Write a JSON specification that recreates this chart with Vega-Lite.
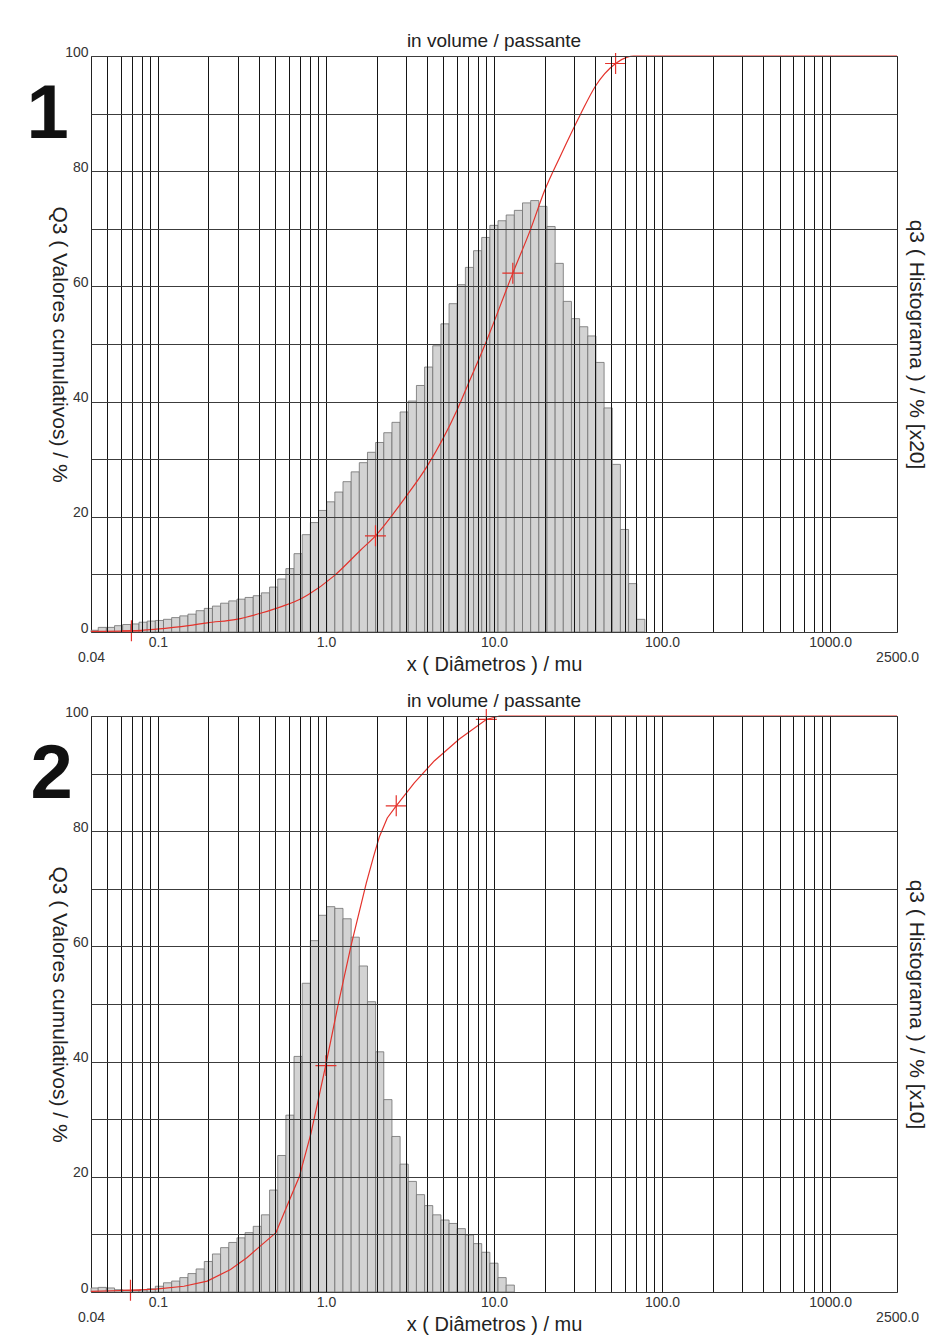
{
  "$schema": "https://vega.github.io/schema/vega-lite/v6.json",
  "background": "white",
  "padding": {"left": 26, "top": 31, "right": 0, "bottom": 0},
  "config": {"font": "Liberation Sans", "view": {"stroke": "#222", "strokeWidth": 1}},
  "bounds": "flush",
  "spacing": 84,
  "datasets": {
    "hist": [
      {"p":1,"lo":0.04,"hi":0.04416,"q":0.3},{"p":1,"lo":0.04416,"hi":0.04938,"q":0.8},{"p":1,"lo":0.04938,"hi":0.05522,"q":0.8},{"p":1,"lo":0.05522,"hi":0.06175,"q":1.1},{"p":1,"lo":0.06175,"hi":0.06906,"q":1.3},{"p":1,"lo":0.06906,"hi":0.07722,"q":1.4},{"p":1,"lo":0.07722,"hi":0.08636,"q":1.7},{"p":1,"lo":0.08636,"hi":0.09657,"q":1.9},{"p":1,"lo":0.09657,"hi":0.10799,"q":2.0},{"p":1,"lo":0.10799,"hi":0.12077,"q":2.2},{"p":1,"lo":0.12077,"hi":0.13505,"q":2.5},{"p":1,"lo":0.13505,"hi":0.15102,"q":2.8},{"p":1,"lo":0.15102,"hi":0.16889,"q":3.1},{"p":1,"lo":0.16889,"hi":0.18886,"q":3.7},{"p":1,"lo":0.18886,"hi":0.2112,"q":4.1},{"p":1,"lo":0.2112,"hi":0.23618,"q":4.5},{"p":1,"lo":0.23618,"hi":0.26412,"q":5.0},{"p":1,"lo":0.26412,"hi":0.29536,"q":5.4},{"p":1,"lo":0.29536,"hi":0.33029,"q":5.7},{"p":1,"lo":0.33029,"hi":0.36936,"q":6.0},{"p":1,"lo":0.36936,"hi":0.41305,"q":6.3},{"p":1,"lo":0.41305,"hi":0.4619,"q":6.8},{"p":1,"lo":0.4619,"hi":0.51653,"q":7.8},{"p":1,"lo":0.51653,"hi":0.57763,"q":9.2},{"p":1,"lo":0.57763,"hi":0.64595,"q":11.0},{"p":1,"lo":0.64595,"hi":0.72235,"q":13.6},{"p":1,"lo":0.72235,"hi":0.80779,"q":16.9},{"p":1,"lo":0.80779,"hi":0.90333,"q":19.0},{"p":1,"lo":0.90333,"hi":1.01018,"q":21.1},{"p":1,"lo":1.01018,"hi":1.12966,"q":22.6},{"p":1,"lo":1.12966,"hi":1.26328,"q":24.3},{"p":1,"lo":1.26328,"hi":1.4127,"q":26.1},{"p":1,"lo":1.4127,"hi":1.5798,"q":27.8},{"p":1,"lo":1.5798,"hi":1.76666,"q":29.4},{"p":1,"lo":1.76666,"hi":1.97562,"q":31.2},{"p":1,"lo":1.97562,"hi":2.2093,"q":32.9},{"p":1,"lo":2.2093,"hi":2.47062,"q":34.6},{"p":1,"lo":2.47062,"hi":2.76284,"q":36.4},{"p":1,"lo":2.76284,"hi":3.08963,"q":38.2},{"p":1,"lo":3.08963,"hi":3.45508,"q":40.1},{"p":1,"lo":3.45508,"hi":3.86375,"q":42.8},{"p":1,"lo":3.86375,"hi":4.32076,"q":46.0},{"p":1,"lo":4.32076,"hi":4.83182,"q":49.7},{"p":1,"lo":4.83182,"hi":5.40334,"q":53.5},{"p":1,"lo":5.40334,"hi":6.04245,"q":57.0},{"p":1,"lo":6.04245,"hi":6.75716,"q":60.3},{"p":1,"lo":6.75716,"hi":7.55641,"q":63.3},{"p":1,"lo":7.55641,"hi":8.45019,"q":66.2},{"p":1,"lo":8.45019,"hi":9.44968,"q":68.5},{"p":1,"lo":9.44968,"hi":10.5674,"q":70.6},{"p":1,"lo":10.5674,"hi":11.8173,"q":71.4},{"p":1,"lo":11.8173,"hi":13.2151,"q":72.4},{"p":1,"lo":13.2151,"hi":14.7782,"q":73.2},{"p":1,"lo":14.7782,"hi":16.5262,"q":74.5},{"p":1,"lo":16.5262,"hi":18.4809,"q":74.9},{"p":1,"lo":18.4809,"hi":20.6669,"q":73.9},{"p":1,"lo":20.6669,"hi":23.1114,"q":70.4},{"p":1,"lo":23.1114,"hi":25.845,"q":64.0},{"p":1,"lo":25.845,"hi":28.902,"q":57.4},{"p":1,"lo":28.902,"hi":32.3206,"q":54.4},{"p":1,"lo":32.3206,"hi":36.1435,"q":53.0},{"p":1,"lo":36.1435,"hi":40.4186,"q":51.4},{"p":1,"lo":40.4186,"hi":45.1994,"q":46.8},{"p":1,"lo":45.1994,"hi":50.5456,"q":38.9},{"p":1,"lo":50.5456,"hi":56.5241,"q":29.1},{"p":1,"lo":56.5241,"hi":63.2098,"q":17.8},{"p":1,"lo":63.2098,"hi":70.6863,"q":8.4},{"p":1,"lo":70.6863,"hi":79.0472,"q":2.2},
      {"p":2,"lo":0.04,"hi":0.04416,"q":0.7},{"p":2,"lo":0.04416,"hi":0.04938,"q":0.8},{"p":2,"lo":0.04938,"hi":0.05522,"q":0.7},{"p":2,"lo":0.05522,"hi":0.06175,"q":0.4},{"p":2,"lo":0.06175,"hi":0.06906,"q":0.3},{"p":2,"lo":0.06906,"hi":0.07722,"q":0.3},{"p":2,"lo":0.07722,"hi":0.08636,"q":0.35},{"p":2,"lo":0.08636,"hi":0.09657,"q":0.55},{"p":2,"lo":0.09657,"hi":0.10799,"q":1.0},{"p":2,"lo":0.10799,"hi":0.12077,"q":1.6},{"p":2,"lo":0.12077,"hi":0.13505,"q":1.9},{"p":2,"lo":0.13505,"hi":0.15102,"q":2.5},{"p":2,"lo":0.15102,"hi":0.16889,"q":3.2},{"p":2,"lo":0.16889,"hi":0.18886,"q":4.0},{"p":2,"lo":0.18886,"hi":0.2112,"q":5.3},{"p":2,"lo":0.2112,"hi":0.23618,"q":6.6},{"p":2,"lo":0.23618,"hi":0.26412,"q":7.7},{"p":2,"lo":0.26412,"hi":0.29536,"q":8.6},{"p":2,"lo":0.29536,"hi":0.33029,"q":9.4},{"p":2,"lo":0.33029,"hi":0.36936,"q":10.3},{"p":2,"lo":0.36936,"hi":0.41305,"q":11.4},{"p":2,"lo":0.41305,"hi":0.4619,"q":13.4},{"p":2,"lo":0.4619,"hi":0.51653,"q":17.7},{"p":2,"lo":0.51653,"hi":0.57763,"q":23.7},{"p":2,"lo":0.57763,"hi":0.64595,"q":30.7},{"p":2,"lo":0.64595,"hi":0.72235,"q":40.9},{"p":2,"lo":0.72235,"hi":0.80779,"q":53.6},{"p":2,"lo":0.80779,"hi":0.90333,"q":61.0},{"p":2,"lo":0.90333,"hi":1.01018,"q":65.4},{"p":2,"lo":1.01018,"hi":1.12966,"q":66.9},{"p":2,"lo":1.12966,"hi":1.26328,"q":66.6},{"p":2,"lo":1.26328,"hi":1.4127,"q":64.8},{"p":2,"lo":1.4127,"hi":1.5798,"q":61.6},{"p":2,"lo":1.5798,"hi":1.76666,"q":56.6},{"p":2,"lo":1.76666,"hi":1.97562,"q":50.4},{"p":2,"lo":1.97562,"hi":2.2093,"q":41.7},{"p":2,"lo":2.2093,"hi":2.47062,"q":33.4},{"p":2,"lo":2.47062,"hi":2.76284,"q":27.0},{"p":2,"lo":2.76284,"hi":3.08963,"q":22.2},{"p":2,"lo":3.08963,"hi":3.45508,"q":19.2},{"p":2,"lo":3.45508,"hi":3.86375,"q":16.9},{"p":2,"lo":3.86375,"hi":4.32076,"q":15.0},{"p":2,"lo":4.32076,"hi":4.83182,"q":13.4},{"p":2,"lo":4.83182,"hi":5.40334,"q":12.5},{"p":2,"lo":5.40334,"hi":6.04245,"q":11.9},{"p":2,"lo":6.04245,"hi":6.75716,"q":11.0},{"p":2,"lo":6.75716,"hi":7.55641,"q":9.9},{"p":2,"lo":7.55641,"hi":8.45019,"q":8.4},{"p":2,"lo":8.45019,"hi":9.44968,"q":6.9},{"p":2,"lo":9.44968,"hi":10.5674,"q":5.0},{"p":2,"lo":10.5674,"hi":11.8173,"q":2.5},{"p":2,"lo":11.8173,"hi":13.2151,"q":1.2}
    ],
    "cum": [
      {"p":1,"d":0.04,"Q":0.1},{"p":1,"d":0.0696,"Q":0.2},{"p":1,"d":0.098,"Q":0.5},{"p":1,"d":0.152,"Q":1.1},{"p":1,"d":0.197,"Q":1.6},{"p":1,"d":0.293,"Q":2.2},{"p":1,"d":0.413,"Q":3.3},{"p":1,"d":0.543,"Q":4.4},{"p":1,"d":0.715,"Q":5.8},{"p":1,"d":0.787,"Q":6.5},{"p":1,"d":1.113,"Q":9.7},{"p":1,"d":1.605,"Q":14.2},{"p":1,"d":1.971,"Q":16.7},{"p":1,"d":2.905,"Q":23.0},{"p":1,"d":4.004,"Q":28.8},{"p":1,"d":6.04,"Q":38.6},{"p":1,"d":7.25,"Q":44.0},{"p":1,"d":8.9,"Q":50.1},{"p":1,"d":12.94,"Q":62.3},{"p":1,"d":16.5,"Q":69.9},{"p":1,"d":19.98,"Q":76.6},{"p":1,"d":24.88,"Q":82.7},{"p":1,"d":32.73,"Q":89.9},{"p":1,"d":40.2,"Q":94.8},{"p":1,"d":52.9,"Q":98.7},{"p":1,"d":62.1,"Q":99.8},{"p":1,"d":67.7,"Q":100},{"p":1,"d":2500,"Q":100},
      {"p":2,"d":0.04,"Q":0.1},{"p":2,"d":0.0687,"Q":0.3},{"p":2,"d":0.0968,"Q":0.5},{"p":2,"d":0.1428,"Q":1.0},{"p":2,"d":0.1966,"Q":1.9},{"p":2,"d":0.2705,"Q":3.9},{"p":2,"d":0.34,"Q":6.0},{"p":2,"d":0.408,"Q":8.0},{"p":2,"d":0.504,"Q":10.3},{"p":2,"d":0.588,"Q":15.0},{"p":2,"d":0.694,"Q":20.0},{"p":2,"d":0.814,"Q":27.5},{"p":2,"d":1.0,"Q":39.5},{"p":2,"d":1.184,"Q":50.0},{"p":2,"d":1.415,"Q":60.3},{"p":2,"d":1.738,"Q":71.0},{"p":2,"d":1.92,"Q":75.6},{"p":2,"d":2.077,"Q":79.0},{"p":2,"d":2.317,"Q":82.3},{"p":2,"d":2.62,"Q":84.4},{"p":2,"d":3.355,"Q":88.4},{"p":2,"d":4.41,"Q":92.2},{"p":2,"d":6.22,"Q":96.0},{"p":2,"d":9.0,"Q":99.4},{"p":2,"d":10.75,"Q":100},{"p":2,"d":2500,"Q":100}
    ],
    "pts": [
      {"p":1,"d":0.0696,"Q":0.2},{"p":1,"d":1.971,"Q":16.7},{"p":1,"d":12.94,"Q":62.3},{"p":1,"d":52.9,"Q":98.7},
      {"p":2,"d":0.0687,"Q":0.3},{"p":2,"d":1.0,"Q":39.3},{"p":2,"d":2.62,"Q":84.4},{"p":2,"d":9.0,"Q":99.4}
    ]
  },
  "vconcat": [
    {
      "width": 806, "height": 576,
      "title": {"text": "in volume / passante", "fontSize": 19, "fontWeight": "normal", "color": "#222", "offset": -6},
      "layer": [
        {
          "data": {"name": "hist"},
          "transform": [{"filter": "datum.p == 1"}],
          "mark": {"type": "rect", "fill": "#d3d3d3", "stroke": "#707070", "strokeWidth": 0.8},
          "encoding": {
            "x": {"field": "lo", "type": "quantitative", "scale": {"type": "log", "domain": [0.04, 2500], "nice": false},
                  "axis": {"orient": "top", "values": [0.05,0.06,0.07,0.08,0.09,0.1,0.2,0.3,0.4,0.5,0.6,0.7,0.8,0.9,1,2,3,4,5,6,7,8,9,10,20,30,40,50,60,70,80,90,100,200,300,400,500,600,700,800,900,1000],
                           "grid": true, "gridColor": "#151515", "gridWidth": 1, "labels": false, "ticks": false, "domain": false, "title": null, "zindex": 1}},
            "x2": {"field": "hi"},
            "y": {"field": "q", "type": "quantitative", "scale": {"domain": [0, 100], "nice": false},
                  "axis": {"orient": "right", "values": [0,10,20,30,40,50,60,70,80,90,100], "grid": true, "gridColor": "#3c3c3c", "gridWidth": 1.2, "labels": false, "ticks": false, "domain": false,
                           "title": "q3 ( Histograma ) / % [x20]", "titleFontSize": 21, "titleFontWeight": "normal", "titleColor": "#222", "titleAngle": 90, "titleX": 18, "titleY": 288, "titleBaseline": "middle", "titleAlign": "center", "zindex": 1}},
            "y2": {"datum": 0}
          }
        },
        {
          "data": {"name": "cum"},
          "transform": [{"filter": "datum.p == 1"}],
          "mark": {"type": "line", "color": "#e4322b", "strokeWidth": 1.2, "interpolate": "monotone"},
          "encoding": {
            "x": {"field": "d", "type": "quantitative", "scale": {"type": "log", "domain": [0.04, 2500], "nice": false},
                  "axis": {"orient": "bottom", "values": [0.04,0.1,1,10,100,1000,2500], "grid": false, "ticks": false, "domain": false,
                           "labelExpr": "datum.value < 0.05 ? ['', '0.04'] : datum.value > 2000 ? ['', '2500.0'] : datum.value < 0.5 ? '0.1' : format(datum.value, '.1f')",
                           "labelFontSize": 14, "labelColor": "#333", "labelPadding": 3, "labelLineHeight": 15, "labelFlush": false, "labelOverlap": false,
                           "title": "x ( Diâmetros ) / mu", "titleFontSize": 20, "titleFontWeight": "normal", "titleColor": "#222", "titleY": 22, "titleBaseline": "top"}},
            "y": {"field": "Q", "type": "quantitative", "scale": {"domain": [0, 100], "nice": false},
                  "axis": {"orient": "left", "values": [0,20,40,60,80,100], "grid": false, "ticks": false, "domain": false,
                           "labelFontSize": 14, "labelColor": "#333", "labelPadding": 3, "labelBaseline": "alphabetic",
                           "title": "Q3 ( Valores cumulativos) / %", "titleFontSize": 21, "titleFontWeight": "normal", "titleColor": "#222", "titleAngle": 90, "titleX": -33, "titleY": 288, "titleBaseline": "middle", "titleAlign": "center"}}
          }
        },
        {
          "data": {"name": "pts"},
          "transform": [{"filter": "datum.p == 1"}],
          "mark": {"type": "point", "shape": "M-1,0L1,0M0,-1L0,1", "size": 440, "filled": false, "stroke": "#e4322b", "strokeWidth": 1.2, "opacity": 1},
          "encoding": {
            "x": {"field": "d", "type": "quantitative", "scale": {"type": "log", "domain": [0.04, 2500], "nice": false}, "axis": null},
            "y": {"field": "Q", "type": "quantitative", "scale": {"domain": [0, 100], "nice": false}, "axis": null}
          }
        },
        {
          "data": {"values": [{"t": "1"}]},
          "mark": {"type": "text", "fontSize": 76, "fontWeight": "bold", "color": "#111", "align": "center", "baseline": "alphabetic"},
          "encoding": {
            "text": {"field": "t"},
            "x": {"datum": 0.0221, "type": "quantitative", "scale": {"type": "log", "domain": [0.04, 2500], "nice": false}, "axis": null},
            "y": {"datum": 85.8, "type": "quantitative", "scale": {"domain": [0, 100], "nice": false}, "axis": null}
          }
        }
      ],
      "resolve": {"axis": {"x": "independent", "y": "independent"}}
    },
    {
      "width": 806, "height": 576,
      "title": {"text": "in volume / passante", "fontSize": 19, "fontWeight": "normal", "color": "#222", "offset": -6},
      "layer": [
        {
          "data": {"name": "hist"},
          "transform": [{"filter": "datum.p == 2"}],
          "mark": {"type": "rect", "fill": "#d3d3d3", "stroke": "#707070", "strokeWidth": 0.8},
          "encoding": {
            "x": {"field": "lo", "type": "quantitative", "scale": {"type": "log", "domain": [0.04, 2500], "nice": false},
                  "axis": {"orient": "top", "values": [0.05,0.06,0.07,0.08,0.09,0.1,0.2,0.3,0.4,0.5,0.6,0.7,0.8,0.9,1,2,3,4,5,6,7,8,9,10,20,30,40,50,60,70,80,90,100,200,300,400,500,600,700,800,900,1000],
                           "grid": true, "gridColor": "#151515", "gridWidth": 1, "labels": false, "ticks": false, "domain": false, "title": null, "zindex": 1}},
            "x2": {"field": "hi"},
            "y": {"field": "q", "type": "quantitative", "scale": {"domain": [0, 100], "nice": false},
                  "axis": {"orient": "right", "values": [0,10,20,30,40,50,60,70,80,90,100], "grid": true, "gridColor": "#3c3c3c", "gridWidth": 1.2, "labels": false, "ticks": false, "domain": false,
                           "title": "q3 ( Histograma ) / % [x10]", "titleFontSize": 21, "titleFontWeight": "normal", "titleColor": "#222", "titleAngle": 90, "titleX": 18, "titleY": 288, "titleBaseline": "middle", "titleAlign": "center", "zindex": 1}},
            "y2": {"datum": 0}
          }
        },
        {
          "data": {"name": "cum"},
          "transform": [{"filter": "datum.p == 2"}],
          "mark": {"type": "line", "color": "#e4322b", "strokeWidth": 1.2},
          "encoding": {
            "x": {"field": "d", "type": "quantitative", "scale": {"type": "log", "domain": [0.04, 2500], "nice": false},
                  "axis": {"orient": "bottom", "values": [0.04,0.1,1,10,100,1000,2500], "grid": false, "ticks": false, "domain": false,
                           "labelExpr": "datum.value < 0.05 ? ['', '0.04'] : datum.value > 2000 ? ['', '2500.0'] : datum.value < 0.5 ? '0.1' : format(datum.value, '.1f')",
                           "labelFontSize": 14, "labelColor": "#333", "labelPadding": 3, "labelLineHeight": 15, "labelFlush": false, "labelOverlap": false,
                           "title": "x ( Diâmetros ) / mu", "titleFontSize": 20, "titleFontWeight": "normal", "titleColor": "#222", "titleY": 22, "titleBaseline": "top"}},
            "y": {"field": "Q", "type": "quantitative", "scale": {"domain": [0, 100], "nice": false},
                  "axis": {"orient": "left", "values": [0,20,40,60,80,100], "grid": false, "ticks": false, "domain": false,
                           "labelFontSize": 14, "labelColor": "#333", "labelPadding": 3, "labelBaseline": "alphabetic",
                           "title": "Q3 ( Valores cumulativos) / %", "titleFontSize": 21, "titleFontWeight": "normal", "titleColor": "#222", "titleAngle": 90, "titleX": -33, "titleY": 288, "titleBaseline": "middle", "titleAlign": "center"}}
          }
        },
        {
          "data": {"name": "pts"},
          "transform": [{"filter": "datum.p == 2"}],
          "mark": {"type": "point", "shape": "M-1,0L1,0M0,-1L0,1", "size": 440, "filled": false, "stroke": "#e4322b", "strokeWidth": 1.2, "opacity": 1},
          "encoding": {
            "x": {"field": "d", "type": "quantitative", "scale": {"type": "log", "domain": [0.04, 2500], "nice": false}, "axis": null},
            "y": {"field": "Q", "type": "quantitative", "scale": {"domain": [0, 100], "nice": false}, "axis": null}
          }
        },
        {
          "data": {"values": [{"t": "2"}]},
          "mark": {"type": "text", "fontSize": 76, "fontWeight": "bold", "color": "#111", "align": "center", "baseline": "alphabetic"},
          "encoding": {
            "text": {"field": "t"},
            "x": {"datum": 0.02333, "type": "quantitative", "scale": {"type": "log", "domain": [0.04, 2500], "nice": false}, "axis": null},
            "y": {"datum": 85.8, "type": "quantitative", "scale": {"domain": [0, 100], "nice": false}, "axis": null}
          }
        }
      ],
      "resolve": {"axis": {"x": "independent", "y": "independent"}}
    }
  ]
}
